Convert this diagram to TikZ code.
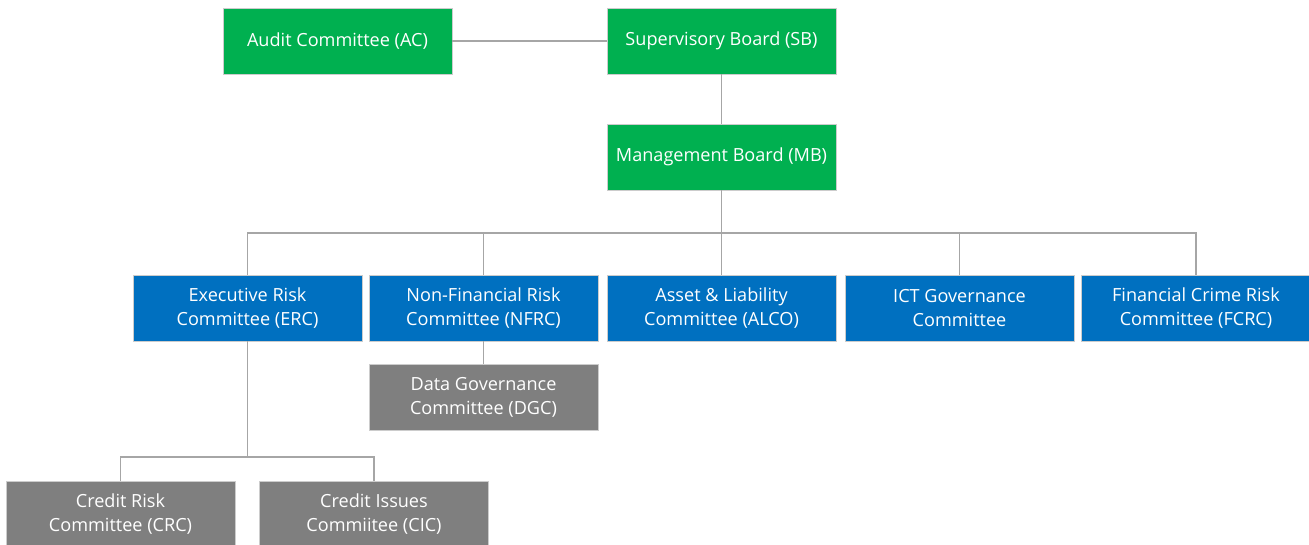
\documentclass[tikz,border=0pt]{standalone}
\usepackage{fontspec}
\setmainfont{Open Sans}
\definecolor{boardgreen}{HTML}{00B050}
\definecolor{commblue}{HTML}{0070C0}
\definecolor{subgray}{HTML}{7F7F7F}
\definecolor{linkgray}{HTML}{A6A6A6}
\tikzset{
  unit/.style={rectangle, minimum width=4.58cm, minimum height=1.32cm,
    inner sep=0pt, align=center, text=white,
    font=\fontsize{10.3}{13.7}\selectfont,
    draw=white!80!black, line width=0.4pt},
  board/.style={unit, fill=boardgreen},
  comm/.style={unit, fill=commblue},
  subcomm/.style={unit, fill=subgray},
  link/.style={draw=linkgray, line width=1pt}
}
\begin{document}
\begin{tikzpicture}
    \useasboundingbox (0,0) rectangle (26.18,-10.88);
    %% Boards
    \node[board] (AC) at (6.75,-0.82)  {Audit Committee (AC)};
    \node[board] (SB) at (14.43,-0.82) {Supervisory Board (SB)};
    \node[board] (MB) at (14.43,-3.14) {Management Board (MB)};
    \draw[link] (AC) -- (SB);
    \draw[link] (SB) -- (MB);
    %% Committees under the MB
    \node[comm] (ERC)  at (4.95,-6.16)  {Executive Risk\\Committee (ERC)};
    \node[comm] (NFRC) at (9.67,-6.16)  {Non-Financial Risk\\Committee (NFRC)};
    \node[comm] (ALCO) at (14.43,-6.16) {Asset \& Liability\\Committee (ALCO)};
    \node[comm] (ICT)  at (19.19,-6.16) {ICT Governance\\Committee};
    \node[comm] (FCRC) at (23.92,-6.16) {Financial Crime Risk\\Committee (FCRC)};
    \coordinate (bus) at (14.43,-4.66);
    \draw[link] (MB.south) -- (bus);
    \foreach \c in {ERC,NFRC,ALCO,ICT,FCRC}
        \draw[link] (bus) -| (\c.north);
    %% Sub-committees
    \node[subcomm] (DGC) at (9.67,-7.95)  {Data Governance\\Committee (DGC)};
    \draw[link] (NFRC) -- (DGC);
    \node[subcomm] (CRC) at (2.41,-10.28) {Credit Risk\\Committee (CRC)};
    \node[subcomm] (CIC) at (7.48,-10.28) {Credit Issues\\Commiitee (CIC)};
    \coordinate (crbus) at (4.95,-9.14);
    \draw[link] (ERC.south) -- (crbus);
    \foreach \c in {CRC,CIC}
        \draw[link] (crbus) -| (\c.north);
\end{tikzpicture}
\end{document}
